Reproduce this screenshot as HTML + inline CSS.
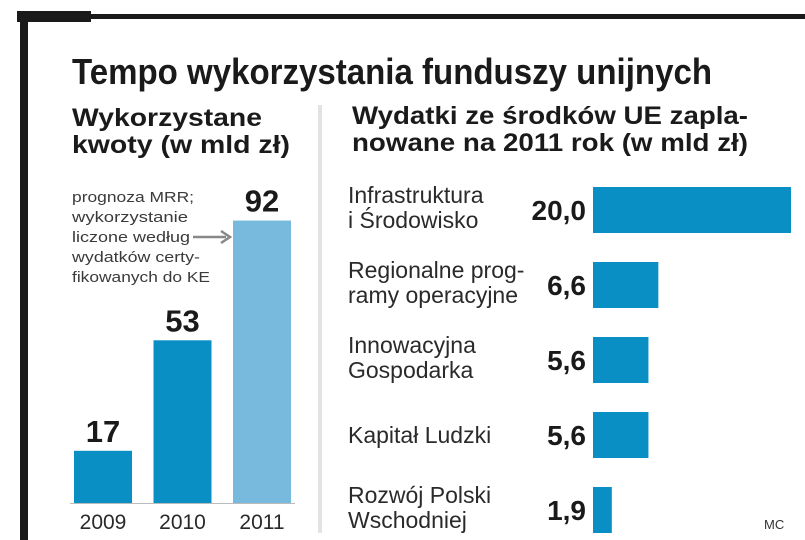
<!DOCTYPE html>
<html><head><meta charset="utf-8"><style>
html,body{margin:0;padding:0;background:#fff}
svg{display:block}
text{font-family:"Liberation Sans",sans-serif}
</style></head><body>
<svg id="chart" width="805" height="540" viewBox="0 0 805 540">
<rect x="17" y="11" width="74" height="11" fill="#1a1a1a"/>
<rect x="90" y="14" width="715" height="5" fill="#1a1a1a"/>
<rect x="20" y="11" width="8" height="529" fill="#1a1a1a"/>
<text x="72" y="84" font-size="36" font-weight="bold" fill="#1a1a1a" textLength="640" lengthAdjust="spacingAndGlyphs">Tempo wykorzystania funduszy unijnych</text>
<text x="72" y="126" font-size="25" font-weight="bold" fill="#1a1a1a" textLength="190" lengthAdjust="spacingAndGlyphs">Wykorzystane</text>
<text x="72" y="153" font-size="25" font-weight="bold" fill="#1a1a1a" textLength="218" lengthAdjust="spacingAndGlyphs">kwoty (w mld zł)</text>
<text x="352" y="124" font-size="25" font-weight="bold" fill="#1a1a1a" textLength="396" lengthAdjust="spacingAndGlyphs">Wydatki ze środków UE zapla-</text>
<text x="352" y="151" font-size="25" font-weight="bold" fill="#1a1a1a" textLength="396" lengthAdjust="spacingAndGlyphs">nowane na 2011 rok (w mld zł)</text>
<rect x="318" y="105" width="4" height="428" fill="#e3e3e3"/>
<g fill="#3a3a3a" font-size="15">
<text x="72" y="202" textLength="122" lengthAdjust="spacingAndGlyphs">prognoza MRR;</text>
<text x="72" y="222" textLength="116" lengthAdjust="spacingAndGlyphs">wykorzystanie</text>
<text x="72" y="242" textLength="118" lengthAdjust="spacingAndGlyphs">liczone według</text>
<text x="72" y="262" textLength="128" lengthAdjust="spacingAndGlyphs">wydatków certy-</text>
<text x="72" y="282" textLength="138" lengthAdjust="spacingAndGlyphs">fikowanych do KE</text>
</g>
<g>
<line x1="193" y1="237" x2="226" y2="237" stroke="#888" stroke-width="2.5"/>
<path d="M221 231 L230 237 L221 243" fill="none" stroke="#888" stroke-width="2.5"/>
</g>
<line x1="70" y1="503.5" x2="295" y2="503.5" stroke="#bbb" stroke-width="1"/>
<g id="left"></g>
<g id="right"></g>
<text x="764" y="529" font-size="13" fill="#333">MC</text>
</svg>
<script>
const years = ["2009","2010","2011"];
const usedValues = [17,53,92];
const usedLabels = ["17","53","92"];
const categoriesLine1 = ["Infrastruktura","Regionalne prog-","Innowacyjna","Kapitał Ludzki","Rozwój Polski"];
const categoriesLine2 = ["i Środowisko","ramy operacyjne","Gospodarka","","Wschodniej"];
const plannedValues = [20.0,6.6,5.6,5.6,1.9];
const plannedLabels = ["20,0","6,6","5,6","5,6","1,9"];

const NS="http://www.w3.org/2000/svg";
function mk(tag,attrs,parent){const e=document.createElementNS(NS,tag);for(const k in attrs)e.setAttribute(k,attrs[k]);parent.appendChild(e);return e;}
const yScale=v=>503-v*3.07;
const xLeft=i=>74+i*79.5;
const L=document.getElementById('left');
usedValues.forEach((v,i)=>{
  const r=mk('rect',{x:xLeft(i),y:yScale(v),width:58,height:503-yScale(v),fill:i===2?'#78bade':'#0a8fc4'},L);
  
  
  const t=mk('text',{x:xLeft(i)+29,y:yScale(v)-9,'font-size':31,'font-weight':'bold','text-anchor':'middle',fill:'#1a1a1a'},L);
  t.textContent=usedLabels[i];
  
  
  const y=mk('text',{x:xLeft(i)+29,y:529,'font-size':21,'text-anchor':'middle',fill:'#2a2a2a'},L);
  y.textContent=years[i];
  
  
});
const xScale=v=>v*9.9;
const rowTop=i=>187+i*75;
const R=document.getElementById('right');
plannedValues.forEach((v,i)=>{
  const top=rowTop(i);
  const r=mk('rect',{x:593,y:top,width:xScale(v),height:46,fill:'#0a8fc4'},R);
  
  
  const t=mk('text',{x:586,y:top+33,'font-size':28,'font-weight':'bold','text-anchor':'end',fill:'#1a1a1a'},R);
  t.textContent=plannedLabels[i];
  
  
  const two=categoriesLine2[i]!=="";
  const c=mk('text',{x:348,y:two?top+16:top+31,'font-size':23,fill:'#2a2a2a'},R);
  c.textContent=categoriesLine1[i];
  
  
  if(two){
    const c2=mk('text',{x:348,y:top+41,'font-size':23,fill:'#2a2a2a'},R);
    c2.textContent=categoriesLine2[i];
    
    
  }
});
</script>
</body></html>
